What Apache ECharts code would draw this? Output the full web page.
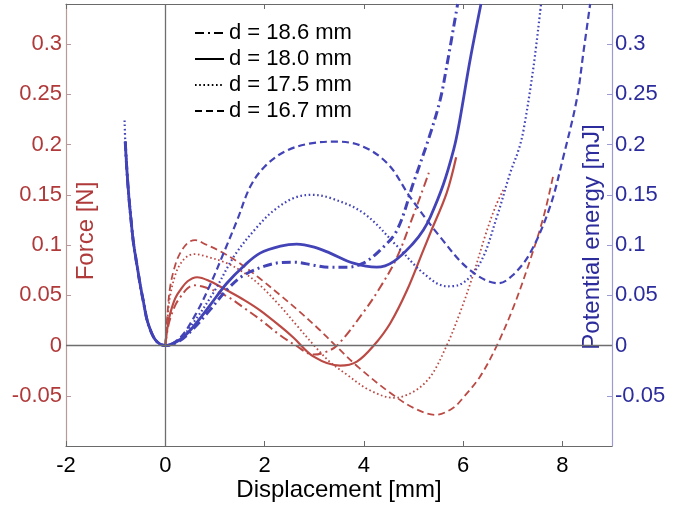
<!DOCTYPE html>
<html>
<head>
<meta charset="utf-8">
<script src="https://cdn.jsdelivr.net/npm/echarts@6/dist/echarts.min.js"></script>
<style>html,body{margin:0;padding:0;background:#fff}#c{width:677px;height:505px}</style>
</head>
<body>
<div id="c"></div>
<script>
// ---- data (x: displacement mm, y: force N / energy mJ) ----
const legendNames = ['d = 18.6 mm', 'd = 18.0 mm', 'd = 17.5 mm', 'd = 16.7 mm'];
const xTicks = [-2, 0, 2, 4, 6, 8];
const yTicks = [-0.05, 0, 0.05, 0.1, 0.15, 0.2, 0.25, 0.3];

const force186 = [[0,0],[0.05,0.017],[0.1,0.027],[0.2,0.04],[0.3,0.048],[0.45,0.057],[0.57,0.06],[0.8,0.058],[1.24,0.049],[1.6,0.037],[1.91,0.026],[2.32,0.01],[2.6,0.001],[2.99,-0.009],[3.2,-0.007],[3.46,0.0],[3.99,0.033],[4.33,0.058],[4.67,0.088],[5.0,0.13],[5.15,0.15],[5.31,0.172]];
const force180 = [[0,0],[0.05,0.02],[0.1,0.032],[0.2,0.047],[0.3,0.055],[0.45,0.064],[0.64,0.068],[0.9,0.064],[1.24,0.055],[1.6,0.045],[1.91,0.035],[2.32,0.019],[2.58,0.008],[2.99,-0.011],[3.52,-0.020],[3.86,-0.016],[4.2,0],[4.53,0.022],[4.87,0.055],[5.2,0.095],[5.34,0.112],[5.67,0.152],[5.86,0.1875]];
const force175 = [[0,0],[0.05,0.03],[0.1,0.05],[0.2,0.07],[0.3,0.081],[0.45,0.089],[0.6,0.091],[0.8,0.089],[1.24,0.082],[1.6,0.072],[1.91,0.06],[2.32,0.039],[2.65,0.02],[3.0,0],[3.32,-0.0165],[3.66,-0.029],[4.1,-0.044],[4.6,-0.052],[5.0,-0.046],[5.34,-0.031],[5.67,0],[5.94,0.033],[6.2,0.07],[6.45,0.11],[6.65,0.138],[6.81,0.155]];
const force167 = [[0,0],[0.05,0.035],[0.1,0.059],[0.2,0.08],[0.3,0.092],[0.45,0.102],[0.6,0.105],[0.8,0.101],[1.1,0.094],[1.5,0.082],[1.9,0.067],[2.32,0.05],[2.7,0.034],[3.1,0.016],[3.43,0],[3.9,-0.022],[4.53,-0.047],[5.0,-0.062],[5.45,-0.069],[5.8,-0.062],[6.0,-0.052],[6.34,-0.031],[6.68,0],[7.02,0.039],[7.35,0.085],[7.62,0.128],[7.82,0.17]];

const energyLeft = [[-0.806,0.203],[-0.78,0.18],[-0.74,0.152],[-0.69,0.125],[-0.64,0.102],[-0.57,0.08],[-0.5,0.059],[-0.43,0.041],[-0.37,0.026],[-0.28,0.013],[-0.2,0.0057],[-0.1,0.0013]];
const energyLeft175 = [[-0.82,0.224],[-0.806,0.203],[-0.78,0.18],[-0.74,0.152],[-0.69,0.125],[-0.64,0.102],[-0.57,0.08],[-0.5,0.059],[-0.43,0.041],[-0.37,0.026],[-0.28,0.013],[-0.2,0.0057],[-0.1,0.0013]];
const energy186 = [[0,0],[0.3,0.005],[0.57,0.017],[0.91,0.036],[1.25,0.056],[1.58,0.07],[2.0,0.079],[2.32,0.0826],[2.6,0.083],[2.99,0.080],[3.3,0.078],[3.66,0.078],[3.99,0.082],[4.33,0.095],[4.67,0.115],[5.0,0.162],[5.34,0.211],[5.54,0.245],[5.67,0.278],[5.89,0.34]];
const energy180 = [[0,0],[0.3,0.006],[0.57,0.019],[0.9,0.04],[1.24,0.062],[1.6,0.08],[1.91,0.092],[2.32,0.099],[2.65,0.101],[3.0,0.098],[3.32,0.092],[3.79,0.082],[4.26,0.078],[4.6,0.0836],[5.0,0.102],[5.2,0.115],[5.34,0.128],[5.6,0.16],[5.81,0.195],[5.91,0.218],[6.14,0.284],[6.36,0.34]];
const energy175 = [[0,0],[0.3,0.007],[0.6,0.025],[1.0,0.055],[1.4,0.09],[1.85,0.118],[2.2,0.135],[2.6,0.147],[2.95,0.15],[3.32,0.147],[3.99,0.132],[4.67,0.099],[5.2,0.072],[5.67,0.059],[5.9,0.06],[6.34,0.082],[6.68,0.128],[6.95,0.172],[7.12,0.195],[7.22,0.215],[7.42,0.278],[7.57,0.34]];
const energy167 = [[0,0],[0.3,0.008],[0.6,0.03],[0.9,0.06],[1.2,0.095],[1.45,0.125],[1.71,0.158],[2.0,0.178],[2.4,0.193],[2.9,0.201],[3.46,0.203],[3.99,0.198],[4.5,0.18],[4.93,0.148],[5.54,0.108],[6.14,0.075],[6.71,0.062],[7.0,0.07],[7.35,0.092],[7.75,0.138],[8.02,0.188],[8.29,0.245],[8.43,0.294],[8.56,0.34]];

// ---- styles ----
const RED = '#bb4a44', BLUE = '#4343b8';
const RED_TXT = '#b0393a', BLUE_TXT = '#2c2c9c';
const FONT = '"Liberation Sans", Arial, sans-serif';
const DASH = { dashdot: [9,4,2,4], solid: 'solid', dotted: [1.6,2.6], dashed: [7,4] };
const styles = ['dashdot', 'solid', 'dotted', 'dashed'];

function line(name, data, color, type, width, yIdx) {
  return {
    name: name, type: 'line', data: data, yAxisIndex: yIdx, xAxisIndex: 0,
    showSymbol: false, symbol: 'none', smooth: 0.35, silent: true,
    lineStyle: { color: color, width: width, type: DASH[type] },
    z: yIdx === 1 ? 3 : 2
  };
}

const series = [
  line('F186', force186, RED, 'dashdot', 2, 0),
  line('F180', force180, RED, 'solid', 2.2, 0),
  line('F175', force175, RED, 'dotted', 1.8, 0),
  line('F167', force167, RED, 'dashed', 1.8, 0),
  line('E186', energyLeft.concat(energy186), BLUE, 'dashdot', 3, 1),
  line('E180', energyLeft.concat(energy180), BLUE, 'solid', 2.8, 1),
  line('E175', energyLeft175.concat(energy175), BLUE, 'dotted', 2.2, 1),
  line('E167', energyLeft.concat(energy167), BLUE, 'dashed', 2.2, 1)
];
// legend entries (black samples)
legendNames.forEach(function (n, i) {
  series.push({ name: n, type: 'line', data: [], showSymbol: false, symbol: 'none', color: '#000',
    itemStyle: { color: '#000', opacity: 0 },
    lineStyle: { color: '#000', width: i === 1 ? 2.4 : 2, type: DASH[styles[i]] } });
});
// zero lines
series.push({
  type: 'line', data: [], silent: true,
  markLine: { silent: true, symbol: 'none', label: { show: false }, animation: false,
    lineStyle: { color: '#6e6e6e', width: 1.3, type: 'solid' },
    data: [{ yAxis: 0 }, { xAxis: 0 }] },
  z: 1
});

function yAxis(pos, color, lineColor) {
  return {
    type: 'value', position: pos, min: -0.1, max: 0.34, interval: 0.05,
    axisLine: { show: true, onZero: false, lineStyle: { color: lineColor, width: 1.2 } },
    axisTick: { show: true, inside: true, length: 5, lineStyle: { color: lineColor } },
    axisLabel: { color: color, fontSize: 22, fontFamily: FONT, margin: pos === 'left' ? 4 : 3,
      showMinLabel: false, showMaxLabel: false,
      formatter: function (v) { return yTicks.some(function (t) { return Math.abs(t - v) < 1e-9; }) ? String(+v.toFixed(2)) : ''; } },
    splitLine: { show: false },
    nameLocation: 'middle', nameRotate: 90, nameMoveOverlap: false,
    nameTextStyle: { color: color, fontSize: 24, fontFamily: FONT }
  };
}
const yLeft = yAxis('left', RED_TXT, '#b89a9a');
yLeft.name = 'Force [N]'; yLeft.nameGap = -32;
yLeft.nameTextStyle.padding = [0, 12, 0, 0];
const yRight = yAxis('right', BLUE_TXT, '#9c9cd2');
yRight.name = 'Potential energy [mJ]'; yRight.nameGap = -32;
yRight.nameTextStyle.padding = [0, 24, 0, 0];

const option = {
  animation: false,
  backgroundColor: '#fff',
  grid: { left: 66, right: 65, top: 4, bottom: 59, containLabel: false, outerBoundsMode: 'none' },
  legend: {
    data: legendNames, orient: 'vertical', left: 189, top: 17,
    itemWidth: 29, itemHeight: 12, itemGap: 4, selectedMode: false,
    itemStyle: { opacity: 0, color: 'rgba(0,0,0,0)', borderWidth: 0 },
    textStyle: { color: '#000', fontSize: 22, fontFamily: FONT, lineHeight: 22 }
  },
  xAxis: [{
    type: 'value', min: -2, max: 9, interval: 2, position: 'bottom',
    axisLine: { show: true, onZero: false, lineStyle: { color: '#6a6a6a', width: 1.2 } },
    axisTick: { show: true, inside: true, length: 5, lineStyle: { color: '#6a6a6a' } },
    axisLabel: { color: '#000', fontSize: 22, fontFamily: FONT, margin: 9, showMaxLabel: false,
      formatter: function (v) { return xTicks.indexOf(v) >= 0 ? String(v) : ''; } },
    splitLine: { show: false },
    name: 'Displacement [mm]', nameLocation: 'middle', nameGap: 32, nameMoveOverlap: false,
    nameTextStyle: { color: '#000', fontSize: 24, fontFamily: FONT }
  }, {
    type: 'value', min: -2, max: 9, interval: 2, position: 'top',
    axisLine: { show: true, onZero: false, lineStyle: { color: '#6a6a6a', width: 1.2 } },
    axisTick: { show: true, inside: true, length: 5, lineStyle: { color: '#6a6a6a' } },
    axisLabel: { show: false }, splitLine: { show: false }
  }],
  yAxis: [yLeft, yRight],
  series: series
};
const chart = echarts.init(document.getElementById('c'), null, { renderer: 'canvas' });
chart.setOption(option);
</script>
</body>
</html>
